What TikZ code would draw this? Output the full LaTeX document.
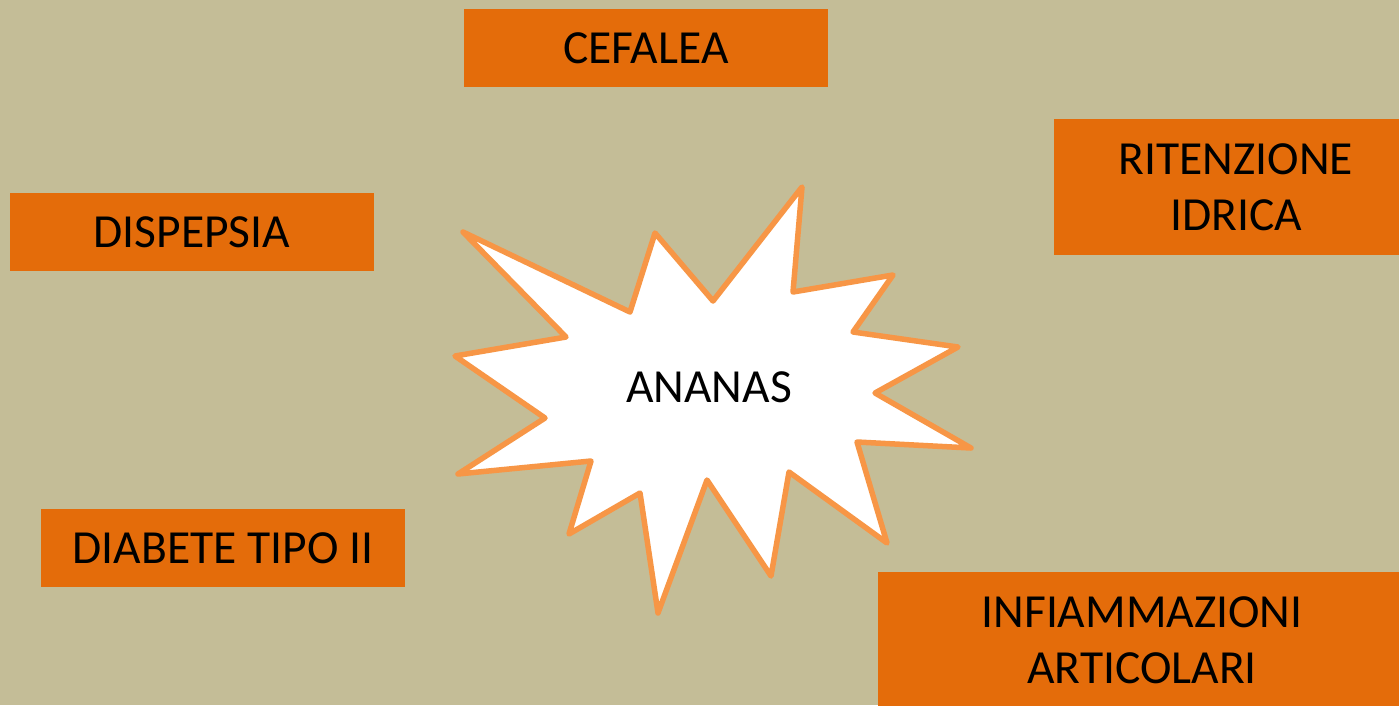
\documentclass[tikz,border=0pt]{standalone}
\usepackage{fontspec}
\setmainfont{Carlito}
\definecolor{bg}{HTML}{C4BD97}
\definecolor{boxfill}{HTML}{E46C0A}
\definecolor{starline}{HTML}{F79646}
\begin{document}
\begin{tikzpicture}[x=1pt,y=-1pt,
  labelbox/.style={fill=boxfill, inner sep=0pt, align=center, text=black,
    font=\fontsize{47.5}{56}\selectfont},
  startext/.style={inner sep=0pt, text=black, font=\fontsize{47.5}{56}\selectfont}]
\useasboundingbox (0,0) rectangle (1399,705);
\clip (0,0) rectangle (1399,705);
\fill[bg] (0,0) rectangle (1399,705);
% boxes
\node[labelbox, minimum width=364pt, minimum height=78pt] (cef) at (646,48) {CEFALEA};
\node[labelbox, minimum width=364pt, minimum height=78pt] (dis) at (192,232) {DISPEPSIA};
\node[labelbox, minimum width=364pt, minimum height=136pt] (rit) at (1236,187) {RITENZIONE\\IDRICA};
\node[labelbox, minimum width=364pt, minimum height=78pt] (dia) at (223,548) {DIABETE TIPO II};
\node[labelbox, minimum width=528pt, minimum height=136pt] (inf) at (1142,640) {INFIAMMAZIONI\\ARTICOLARI};
% star
\draw[starline, fill=white, line width=5.5pt, line join=round]
  (463,232) -- (630,312) -- (655,233) -- (713,301) -- (802,187) -- (793,292)
  -- (893,275) -- (853,332) -- (958,347) -- (875,393) -- (971,448) -- (857,442)
  -- (887,543) -- (789,472) -- (771,576) -- (707,480) -- (658,613) -- (640,493)
  -- (569,534) -- (591,461) -- (458,474) -- (545,418) -- (455,356) -- (566,337)
  -- cycle;
\node[startext] (ana) at (709,387) {ANANAS};
\end{tikzpicture}
\end{document}
